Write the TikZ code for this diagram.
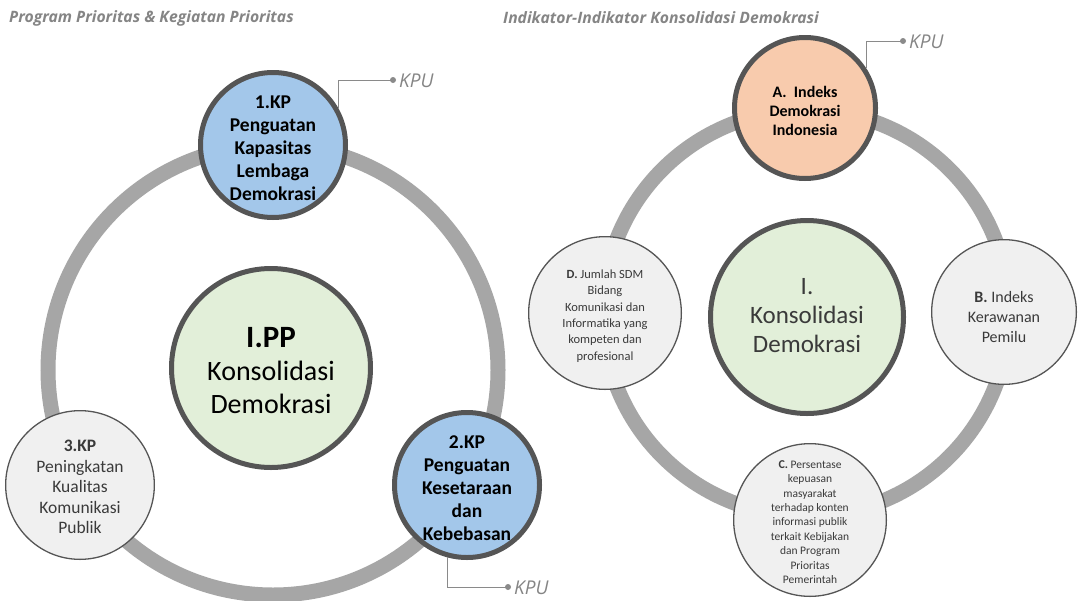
\documentclass[tikz,border=0pt]{standalone}
\usepackage{fontspec}
\setmainfont{Carlito}
\newfontfamily\titlefont{Open Sans}
\definecolor{ringgray}{HTML}{A6A6A6}
\definecolor{border}{HTML}{555555}
\definecolor{bluefill}{HTML}{A3C7EA}
\definecolor{greenfill}{HTML}{E2EFD9}
\definecolor{peachfill}{HTML}{F8CBAD}
\definecolor{lightfill}{HTML}{F0F0F0}
\definecolor{titlegray}{HTML}{858585}
\definecolor{linegray}{HTML}{8A8A8A}
\definecolor{txtgray}{HTML}{3A3A3A}
\begin{document}
\begin{tikzpicture}[x=1pt,y=-1pt,
  ring/.style={circle, draw=ringgray, line width=15pt, inner sep=0pt},
  bigc/.style={circle, draw=border, line width=5pt, inner sep=0pt},
  smallc/.style={circle, draw=border, line width=1.3pt, fill=lightfill, inner sep=0pt},
  txt/.style={align=center, inner sep=0pt, text=black},
  gtxt/.style={align=center, inner sep=0pt, text=txtgray},
  kpuline/.style={draw=linegray, line width=0.9pt},
  kpudot/.style={circle, fill=linegray, inner sep=0pt, minimum size=6pt},
  kpu/.style={font=\titlefont\itshape\fontsize{19}{19}\selectfont, text=titlegray, anchor=west, inner sep=0pt},
  title/.style={font=\titlefont\bfseries\itshape\fontsize{15.7}{17}\selectfont, text=titlegray, anchor=west, inner sep=0pt}
]
\useasboundingbox (0,0) rectangle (1081,600);
\fill[white] (0,0) rectangle (1081,600);

% titles
\node[title] (t1) at (9,18) {Program Prioritas \& Kegiatan Prioritas};
\node[title] (t2) at (503,18) {Indikator-Indikator Konsolidasi Demokrasi};

% ---------- left diagram ----------
\node[ring, minimum size=450pt] (ringL) at (273,370) {};
\node[bigc, fill=greenfill, minimum size=199pt] (cL) at (271,368) {};
\node[bigc, fill=bluefill, minimum size=145pt] (c1) at (273,145) {};
\node[bigc, fill=bluefill, minimum size=145pt] (c2) at (467,485) {};
\node[smallc, minimum size=148.7pt] (c3) at (80,485) {};

\node[txt, font=\fontsize{28}{33}\selectfont] (cLt) at (271,371)
  {{\fontsize{31}{33}\selectfont\bfseries I.PP}\\Konsolidasi\\Demokrasi};
\node[txt, font=\bfseries\fontsize{19.5}{23}\selectfont] (c1t) at (273,148)
  {1.KP\\Penguatan\\Kapasitas\\Lembaga\\Demokrasi};
\node[txt, font=\bfseries\fontsize{19.5}{23}\selectfont] (c2t) at (467,488)
  {2.KP\\Penguatan\\Kesetaraan\\dan\\Kebebasan};
\node[gtxt, font=\fontsize{17.5}{20.5}\selectfont] (c3t) at (80,487)
  {\textbf{3.KP}\\Peningkatan\\Kualitas\\Komunikasi\\Publik};

% KPU connectors (left)
\coordinate (k1) at (393,80);
\coordinate (k2) at (508,587);
\draw[kpuline] (c1.30) |- (k1);
\draw[kpuline] (c2.-105) |- (k2);
\node[kpudot] (k1d) at (k1) {};
\node[kpudot] (k2d) at (k2) {};
\node[kpu] (k1t) at (399,81) {KPU};
\node[kpu] (k2t) at (514,588) {KPU};

% ---------- right diagram ----------
\node[ring, minimum size=406pt] (ringR) at (806,313) {};
\node[bigc, fill=greenfill, minimum size=193pt] (cR) at (807,317) {};
\node[bigc, fill=peachfill, minimum size=141pt] (cA) at (805,108) {};
\node[smallc, minimum size=144.7pt] (cB) at (1004,312) {};
\node[smallc, minimum size=152.7pt] (cC) at (810,520) {};
\node[smallc, minimum size=152.7pt] (cD) at (605,313) {};

\node[gtxt, font=\fontsize{25}{29}\selectfont] (cRt) at (807,316)
  {I.\\Konsolidasi\\Demokrasi};
\node[txt, font=\bfseries\fontsize{16}{19}\selectfont] (cAt) at (805,111)
  {A.\ \ Indeks\\Demokrasi\\Indonesia};
\node[gtxt, font=\fontsize{16}{20}\selectfont] (cBt) at (1004,317)
  {\textbf{B.} Indeks\\Kerawanan\\Pemilu};
\node[gtxt, font=\fontsize{11.5}{14.4}\selectfont] (cCt) at (810,522)
  {\textbf{\large C.} Persentase\\kepuasan\\masyarakat\\terhadap konten\\informasi publik\\terkait Kebijakan\\dan Program\\Prioritas\\Pemerintah};
\node[gtxt, font=\fontsize{12.5}{16.4}\selectfont] (cDt) at (605,316)
  {\textbf{D.} Jumlah SDM\\Bidang\\Komunikasi dan\\Informatika yang\\kompeten dan\\profesional};

% KPU connector (right)
\coordinate (k3) at (903,41);
\draw[kpuline] (cA.33) |- (k3);
\node[kpudot] (k3d) at (k3) {};
\node[kpu] (k3t) at (909,42) {KPU};
\end{tikzpicture}
\end{document}
